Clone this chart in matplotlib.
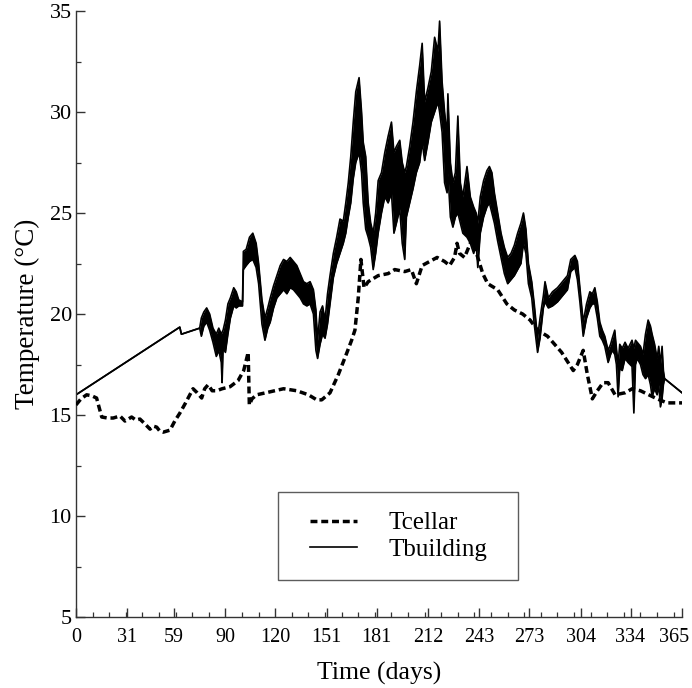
import matplotlib
matplotlib.use("Agg")
import matplotlib.pyplot as plt
import matplotlib.transforms as mtransforms
from matplotlib.ticker import MultipleLocator, FixedLocator
from matplotlib.lines import Line2D
from matplotlib.legend_handler import HandlerLine2D

# ---------------- data ----------------
cellar_days = [0, 3, 6.4, 9.5, 12.4, 15.5, 19, 22.4, 26.5, 29.5, 33.5, 36, 38.5, 41, 44.6,
               46.5, 48.6, 50.5, 52.5, 56.6, 59.5, 62.6, 66, 70.5, 73, 75.7, 77.5, 79.6, 82,
               84.7, 88, 92.8, 97.6, 101, 103.7, 104.4, 106, 108.8, 117, 125, 133, 140, 145,
               148, 153, 158, 163, 166, 168, 170, 171.6, 173.5, 176, 182, 188, 192, 198, 202,
               205, 208.5, 213, 217.5, 222, 225, 228, 229.5, 231, 234, 238.5, 242, 245, 248,
               254, 259.5, 264, 269, 273.5, 278, 284, 292.5, 299.5, 302, 305.5, 308, 311, 314,
               317.5, 320.5, 324.7, 330.7, 335, 340, 345, 350, 356, 365]
cellar_temp = [15.5, 15.8, 16.0, 15.95, 15.84, 14.9, 14.85, 14.85, 14.95, 14.7, 14.9, 14.75,
               14.8, 14.6, 14.3, 14.45, 14.4, 14.2, 14.15, 14.25, 14.7, 15.1, 15.6, 16.3, 16.1,
               15.84, 16.3, 16.5, 16.2, 16.2, 16.3, 16.4, 16.7, 17.2, 18.1, 15.5, 15.8, 16.0,
               16.15, 16.3, 16.2, 16.0, 15.75, 15.75, 16.1, 17.0, 18.05, 18.7, 19.2, 20.8, 22.7,
               21.3, 21.6, 21.9, 22.0, 22.2, 22.1, 22.2, 21.5, 22.4, 22.6, 22.8, 22.6, 22.4,
               22.8, 23.5, 23.0, 22.8, 23.7, 22.8, 22.0, 21.5, 21.2, 20.5, 20.2, 20.0, 19.7,
               19.2, 18.9, 18.1, 17.2, 17.5, 18.2, 17.0, 15.8, 16.2, 16.6, 16.6, 16.0, 16.1,
               16.3, 16.2, 16.0, 15.8, 15.6, 15.6]

# Tbuilding: lower / upper envelope of the (hourly, very noisy) signal
building_days = [0, 62.5, 63.5, 74.5, 75.5, 77, 78.7, 80.5, 82.5, 84.5, 86, 87.5, 88, 88.6, 90,
                 91.5, 93, 95, 96.5, 98, 100.3, 100.8, 102.5, 104.5, 106.5, 108.5, 110, 112,
                 113.8, 115.5, 117, 119, 121, 123, 125, 127, 129, 131, 133, 135, 137, 139, 141,
                 143, 144.5, 145.5, 147, 148.5, 150, 151.5, 153, 155, 157, 159, 161, 162.5,
                 164, 165.5, 167, 168.5, 170.5, 172, 173, 174.5, 176, 177.5, 179, 180.5, 182,
                 184, 186, 188, 190, 191.5, 193, 195, 196.5, 198, 199, 201, 203, 205, 207,
                 208.5, 210, 212, 214, 216, 218, 219, 220.5, 222, 223.5, 224, 225.5, 227,
                 228.5, 230, 231.5, 233, 235.5, 237.5, 239.5, 241, 242, 243.5, 245.5, 247.5,
                 249, 250.5, 252, 254, 256, 258, 260, 262, 264, 266, 268, 269.5, 271, 272.5,
                 274.5, 276, 278, 279.5, 281.5, 282.5, 284.5, 287, 290, 293, 296, 298, 300.5,
                 302, 303.5, 305.5, 307.5, 309.5, 311, 312.5, 314, 315.5, 317, 318.5, 320.5,
                 322, 323, 324.5, 325.5, 326.5, 327.5, 329, 330.7, 332.5, 334.9, 336, 337,
                 338, 340, 341.5, 343, 344.6, 346, 347, 348.5, 350, 351, 352, 353, 353.8,
                 354.5, 365]
building_low = [16.0, 19.35, 19.0, 19.3, 18.9, 19.4, 19.6, 19.2, 18.6, 17.9, 18.2, 17.6, 16.6,
                18.3, 18.1, 19.0, 19.8, 20.4, 20.3, 20.4, 20.4, 22.2, 22.4, 22.6, 22.7, 22.3,
                21.5, 19.5, 18.7, 19.3, 19.6, 20.3, 20.8, 21.0, 21.2, 21.0, 21.3, 21.2, 21.0,
                20.8, 20.5, 20.4, 20.5, 20.0, 18.2, 17.8, 18.5, 19.0, 18.8, 19.5, 20.5, 21.8,
                22.5, 23.0, 23.5, 24.0, 24.8, 25.5, 26.7, 27.5, 28.0, 27.0, 25.5, 24.2, 23.8,
                23.3, 22.2, 23.0, 24.0, 25.0, 25.8, 25.5, 26.0, 24.0, 24.5, 25.2, 23.5, 22.7,
                24.8, 25.5, 26.2, 27.0, 27.5, 28.5, 27.6, 28.5, 29.5, 30.0, 30.5, 30.0, 29.0,
                26.5, 26.0, 27.0, 24.8, 24.3, 24.8, 25.0, 24.5, 24.0, 23.8, 23.5, 23.0, 23.5,
                22.3, 24.0, 24.8, 25.3, 25.5, 25.0, 24.5, 23.6, 22.8, 22.0, 21.5, 21.7, 21.9,
                22.2, 22.5, 23.5, 23.0, 21.5, 20.8, 19.5, 18.1, 18.8, 20.3, 20.6, 20.3, 20.4,
                20.6, 20.9, 21.2, 22.1, 22.3, 21.7, 20.6, 18.9, 19.8, 20.3, 20.5, 20.5, 19.8,
                18.9, 18.7, 18.4, 17.6, 18.0, 18.2, 18.0, 17.5, 15.9, 17.3, 17.2, 17.8, 17.6,
                17.4, 15.1, 17.5, 17.8, 17.5, 17.0, 16.8, 17.0, 16.5, 15.9, 16.3, 16.0, 16.5,
                15.4, 15.8, 16.5, 16.8, 16.1]
building_high = [16.0, 19.35, 19.0, 19.3, 19.8, 20.1, 20.3, 20.0, 19.3, 19.0, 19.3, 19.0, 19.1,
                 19.2, 19.7, 20.5, 20.8, 21.3, 21.1, 20.7, 20.6, 23.1, 23.2, 23.8, 24.0, 23.5,
                 22.5, 20.7, 19.8, 20.3, 20.8, 21.4, 21.9, 22.4, 22.7, 22.6, 22.8, 22.6, 22.4,
                 22.0, 21.6, 21.5, 21.6, 21.2, 20.2, 18.7, 20.1, 20.4, 19.7, 21.0, 21.9, 23.0,
                 23.8, 24.7, 24.6, 25.5, 26.5, 27.8, 29.5, 31.0, 31.7, 30.0, 28.5, 27.8, 25.5,
                 24.5, 24.0, 25.0, 26.6, 27.0, 28.0, 28.8, 29.5, 28.0, 28.3, 28.6, 27.5, 27.0,
                 27.3, 28.3, 29.5, 31.0, 32.3, 33.4, 30.5, 31.2, 32.0, 33.7, 33.0, 34.5, 31.5,
                 30.0, 28.8, 30.9, 27.5, 26.5, 27.0, 29.8, 26.5, 25.8, 27.3, 25.8, 25.3, 25.0,
                 24.5, 25.8, 26.6, 27.1, 27.3, 27.0, 26.0, 25.0, 24.0, 23.3, 22.8, 23.0, 23.4,
                 24.0, 24.5, 25.0, 24.2, 22.5, 21.6, 20.5, 18.8, 19.8, 20.9, 21.6, 20.8, 21.1,
                 21.3, 21.6, 21.9, 22.7, 22.9, 22.6, 21.3, 19.6, 20.5, 21.1, 21.0, 21.3, 20.6,
                 19.6, 19.2, 18.9, 18.2, 18.5, 18.8, 19.2, 18.3, 17.5, 18.5, 18.3, 18.6, 18.3,
                 18.7, 18.3, 18.7, 18.6, 18.4, 18.0, 19.0, 19.7, 19.4, 19.0, 18.5, 17.8, 18.4,
                 17.5, 18.4, 17.2, 16.8, 16.1]

month_ticks = [0, 31, 59, 90, 120, 151, 181, 212, 243, 273, 304, 334, 365]

# ---------------- figure ----------------
plt.rcParams['font.family'] = ['Liberation Serif', 'DejaVu Serif']

fig = plt.figure(figsize=(6.92, 6.88), dpi=100)
ax = fig.add_axes([76 / 692, 71 / 688, 606 / 692, 606 / 688])

ax.plot(cellar_days, cellar_temp, color='black', lw=2.5, linestyle=(0, (2, 1.1)),
        label='Tcellar', zorder=3)
ax.fill_between(building_days, building_low, building_high, color='black', lw=0, zorder=2)
ax.plot(building_days, building_high, color='black', lw=1.2, label='Tbuilding', zorder=2)
ax.plot(building_days, building_low, color='black', lw=1.2, zorder=2)

ax.set_xlim(0, 365)
ax.set_ylim(5, 35)
ax.xaxis.set_major_locator(FixedLocator(month_ticks))
ax.xaxis.set_minor_locator(MultipleLocator(10))
ax.yaxis.set_major_locator(MultipleLocator(5))
ax.yaxis.set_minor_locator(MultipleLocator(2.5))

for s in ['top', 'right']:
    ax.spines[s].set_visible(False)
for s in ['left', 'bottom']:
    ax.spines[s].set_color('#333333')
    ax.spines[s].set_linewidth(1.0)

ax.tick_params(axis='both', which='major', direction='in', length=6.5, width=1.0,
               color='#333333')
ax.tick_params(axis='both', which='minor', direction='in', length=3.5, width=0.9,
               color='#333333')
ax.tick_params(axis='x', which='major', labelsize=14.5, pad=8)
ax.tick_params(axis='y', which='major', labelsize=16, pad=3)

ax.set_xlabel('Time (days)', fontsize=18.5, labelpad=11)
ax.set_ylabel('Temperature (°C)', fontsize=19.5, labelpad=7)

leg = ax.legend(loc='lower left', bbox_to_anchor=(0.333, 0.061, 0.396, 0.145),
                mode='expand', fontsize=18, frameon=True, fancybox=False,
                edgecolor='#333333', handlelength=2.4, handletextpad=1.25,
                borderpad=0.78, labelspacing=0.15, borderaxespad=0,
                handler_map={Line2D: HandlerLine2D(xpad=0.5)})
leg.get_frame().set_linewidth(1.0)

fig.canvas.draw()
# keep the last x tick label ("365") inside the figure, as in the reference
last = ax.get_xticklabels()[-1]
last.set_transform(last.get_transform() +
                   mtransforms.ScaledTranslation(-8 / 100, 0, fig.dpi_scale_trans))

fig.savefig('out.png', dpi=100)
